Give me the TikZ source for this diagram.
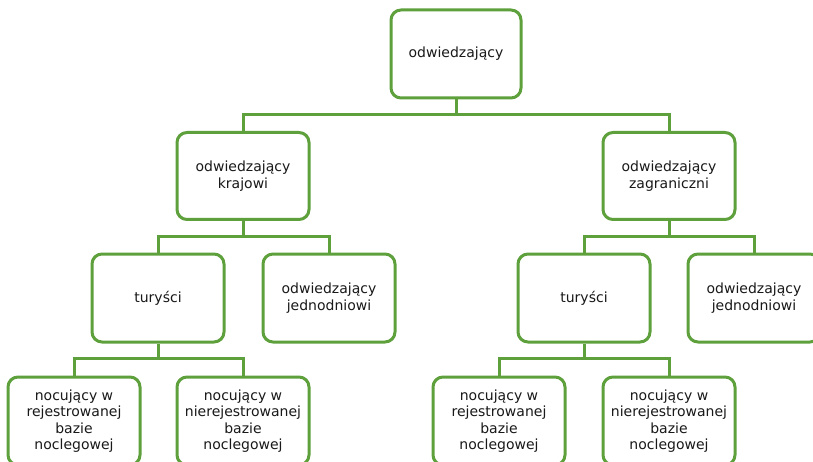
\documentclass[tikz,border=0pt]{standalone}
\usepackage{fontspec}
\setmainfont{DejaVu Sans}
\definecolor{grn}{RGB}{94,160,60}
\begin{document}
\begin{tikzpicture}[x=1pt,y=-1pt,
  box/.style={draw=grn, line width=3pt, rounded corners=10pt, fill=white,
    minimum width=132pt, minimum height=88pt, align=center, inner sep=2pt,
    font=\fontsize{14}{16.5}\selectfont, text=black!90},
  conn/.style={draw=grn, line width=3pt}]
\useasboundingbox (0,0) rectangle (813,462);
\node[box, minimum width=130pt] (top) at (456,54) {odwiedzający};
\node[box, minimum height=87pt] (kraj) at (243,176) {odwiedzający\\krajowi};
\node[box, minimum height=87pt] (zagr) at (669,176) {odwiedzający\\zagraniczni};
\node[box] (tl) at (158,298) {turyści};
\node[box] (jl) at (329,298) {odwiedzający\\jednodniowi};
\node[box] (tr) at (584,298) {turyści};
\node[box] (jr) at (754,298) {odwiedzający\\jednodniowi};
\node[box] (l1) at (74,421) {nocujący w\\rejestrowanej\\bazie\\noclegowej};
\node[box] (l2) at (243,421) {nocujący w\\nierejestrowanej\\bazie\\noclegowej};
\node[box] (r1) at (499,421) {nocujący w\\rejestrowanej\\bazie\\noclegowej};
\node[box] (r2) at (669,421) {nocujący w\\nierejestrowanej\\bazie\\noclegowej};
\coordinate (b0) at (456,115);
\coordinate (b1) at (243,237);
\coordinate (b2) at (669,237);
\coordinate (b3) at (158,358);
\coordinate (b4) at (584,358);
\draw[conn] (top.south) -- (b0);
\draw[conn] (kraj.north) |- (b0) -| (zagr.north);
\draw[conn] (kraj.south) -- (b1);
\draw[conn] (tl.north) |- (b1) -| (jl.north);
\draw[conn] (zagr.south) -- (b2);
\draw[conn] (tr.north) |- (b2) -| (jr.north);
\draw[conn] (tl.south) -- (b3);
\draw[conn] (l1.north) |- (b3) -| (l2.north);
\draw[conn] (tr.south) -- (b4);
\draw[conn] (r1.north) |- (b4) -| (r2.north);
\end{tikzpicture}
\end{document}
